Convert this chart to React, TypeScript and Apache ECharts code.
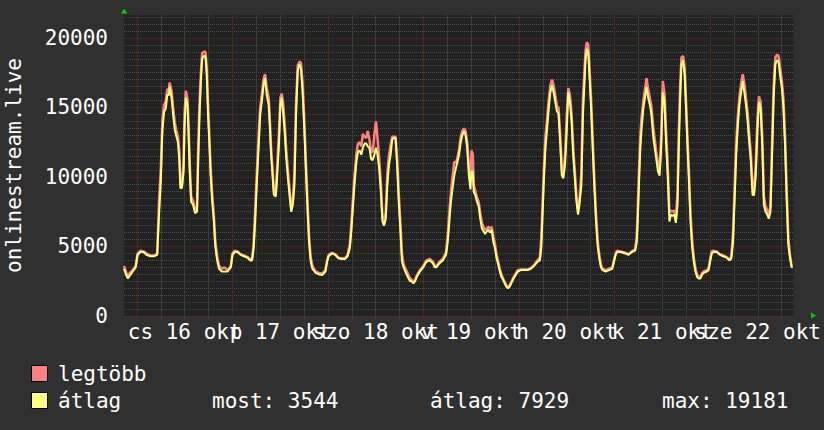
import React, { useEffect, useRef } from "react";
import * as echarts from "echarts";

// time in hours from midnight, 16 okt
const hours = [
  -3.25, -2.78, -2.29, -1.79, -1.06, -0.32, 0.17, 0.91, 1.65, 2.38, 3.37, 4.35, 5.09, 5.58, 6.0, 6.39, 6.81, 7.23, 7.62, 8.04,
  8.21, 8.7, 9.09, 9.51, 9.93, 10.32, 10.67, 10.91, 11.3, 11.72, 11.97, 12.29, 12.71, 12.95, 13.27, 13.62, 14.11, 14.6, 15.09, 15.41,
  15.73, 16.07, 16.39, 16.81, 17.2, 17.55, 17.87, 18.19, 18.53, 18.92, 19.34, 19.66, 20.15, 20.64, 21.31, 21.97, 22.78, 23.59, 24.01, 24.58,
  25.24, 26.05, 26.89, 27.7, 28.51, 28.93, 29.34, 29.74, 30.15, 30.57, 30.97, 31.38, 31.8, 32.19, 32.61, 33.1, 33.42, 33.67, 34.01, 34.41,
  34.9, 35.24, 35.64, 36.05, 36.37, 36.72, 37.11, 37.53, 37.95, 38.34, 38.76, 39.17, 39.57, 39.98, 40.4, 40.8, 41.21, 41.63, 42.02, 42.44,
  42.86, 43.25, 43.67, 44.09, 44.9, 45.71, 46.55, 47.36, 47.78, 48.17, 49.0, 49.82, 50.63, 51.46, 52.27, 52.94, 53.5, 53.92, 54.31, 54.73,
  55.15, 55.54, 55.96, 56.38, 56.77, 57.19, 57.61, 58.0, 58.42, 58.84, 59.23, 59.65, 60.06, 60.46, 60.87, 61.29, 61.69, 62.1, 62.52, 62.91,
  63.33, 63.75, 64.14, 64.56, 64.98, 65.37, 65.79, 66.21, 66.6, 67.02, 67.44, 67.83, 68.25, 68.66, 69.06, 69.47, 69.89, 70.29, 71.12, 71.93,
  72.74, 73.58, 74.39, 74.81, 75.2, 76.04, 76.85, 77.66, 78.08, 78.5, 78.89, 79.31, 79.73, 80.12, 80.54, 80.95, 81.35, 81.76, 82.18, 82.58,
  82.99, 83.41, 83.8, 84.05, 84.39, 84.64, 85.03, 85.45, 85.87, 86.26, 86.68, 87.1, 87.49, 87.91, 88.33, 88.72, 89.14, 89.56, 89.95, 90.37,
  90.78, 91.18, 91.59, 92.01, 92.41, 92.82, 93.24, 93.63, 94.05, 94.47, 94.86, 95.28, 95.7, 96.51, 97.32, 98.16, 98.97, 99.78, 100.61, 101.25,
  101.6, 101.92, 102.24, 102.65, 103.07, 103.46, 103.88, 104.3, 104.69, 105.11, 105.53, 105.92, 106.34, 106.76, 107.15, 107.57, 107.99, 108.38, 108.8, 109.22,
  109.61, 110.03, 110.45, 110.84, 111.26, 111.67, 112.07, 112.48, 112.73, 113.05, 113.39, 113.71, 114.13, 114.52, 114.94, 115.36, 115.75, 116.17, 116.59, 116.98,
  117.82, 118.63, 119.44, 119.86, 120.28, 120.67, 121.5, 122.73, 123.54, 124.35, 125.19, 125.58, 125.83, 126.17, 126.49, 126.81, 127.23, 127.65, 128.04, 128.46,
  128.88, 129.27, 129.69, 130.11, 130.5, 130.92, 131.33, 131.73, 132.14, 132.56, 132.95, 133.37, 133.79, 134.18, 134.6, 135.02, 135.41, 135.83, 136.15, 136.5,
  136.81, 137.23, 137.63, 137.97, 138.29, 138.71, 139.1, 139.52, 139.93, 140.33, 140.75, 141.16, 141.56, 141.97, 142.39, 143.21, 143.62, 144.02, 144.43, 144.85,
  145.66, 146.47, 147.31, 148.12, 148.93, 149.35, 149.77, 150.16, 150.58, 150.99, 151.39, 151.81, 152.22, 152.62, 153.03, 153.45, 153.84, 154.26, 154.68, 155.07,
  155.49, 155.91, 156.3, 156.72, 157.14, 157.53, 157.95, 158.37, 158.76, 159.18, 159.6, 159.99, 160.41, 160.83, 161.22, 161.64, 162.06, 162.45, 162.87, 163.28,
  163.68, 164.1, 164.51, 164.76,
];

// "átlag" (average)
const avgVals = [
  3400, 3000, 2700, 2900, 3200, 3500, 4400, 4600, 4600, 4400, 4300, 4300, 4400, 7500, 9700, 13300, 14700, 14900, 15900, 15900,
  16500, 15700, 14500, 13400, 12900, 12500, 11100, 9200, 9200, 10400, 13700, 15700, 15200, 13300, 10400, 8200, 8000, 7400, 7500, 11300,
  14500, 16900, 18500, 18700, 18700, 17300, 14500, 12500, 10100, 8200, 6800, 5100, 4000, 3400, 3200, 3200, 3200, 3500, 4400, 4600,
  4600, 4400, 4300, 4200, 4000, 4000, 4900, 7000, 9700, 12100, 14500, 15400, 16600, 17100, 15900, 15200, 13500, 11800, 10400, 8700,
  8600, 10100, 12100, 15200, 15700, 14700, 13300, 11300, 9900, 8700, 7500, 8000, 9400, 14500, 17600, 18100, 17800, 16100, 13700, 10600,
  7700, 5300, 3900, 3400, 3100, 3000, 2950, 3200, 3900, 4300, 4500, 4400, 4150, 4100, 4100, 4300, 4900, 6300, 8000, 9700,
  11100, 11800, 11900, 11600, 12100, 12400, 12400, 12200, 12100, 11300, 11200, 11600, 12100, 11600, 10600, 8900, 6800, 6500, 7000, 9400,
  10900, 11600, 12700, 12800, 12800, 10900, 8200, 6100, 3900, 3500, 3200, 2950, 2700, 2500, 2500, 2350, 2500, 2800, 3200, 3500,
  3900, 4000, 3800, 3500, 3500, 3800, 4000, 4400, 5300, 6800, 8200, 9200, 10100, 10600, 11100, 11600, 12500, 13000, 13300, 13000,
  12100, 10100, 9100, 10400, 10400, 8900, 8700, 8200, 7900, 7000, 6300, 6100, 5900, 6100, 6200, 6000, 6200, 5300, 4900, 4150,
  3700, 3200, 2800, 2600, 2350, 2100, 2000, 2100, 2350, 2600, 2800, 3000, 3200, 3300, 3300, 3300, 3400, 3600, 3900, 4000,
  4900, 7300, 9700, 12100, 13500, 14900, 16100, 16600, 16100, 15400, 14700, 14600, 12500, 10100, 9900, 10900, 13300, 16100, 15400, 14000,
  11600, 9900, 8200, 7300, 8200, 9400, 14500, 16900, 18500, 19200, 19000, 17300, 14900, 12100, 9200, 6800, 5100, 4150, 3500, 3300,
  3200, 3300, 3400, 3900, 4400, 4600, 4600, 4500, 4400, 4600, 4700, 5300, 6800, 9700, 12100, 13500, 14900, 15700, 16500, 15700,
  15200, 14500, 13000, 12100, 11300, 10400, 10100, 12100, 16100, 15400, 12500, 10100, 6800, 7300, 7200, 7300, 6700, 8000, 12100, 15700,
  18100, 18400, 17300, 14900, 12500, 9700, 6800, 4900, 3900, 3200, 2800, 2700, 2700, 2950, 3100, 3200, 3300, 3900, 4500, 4600,
  4600, 4400, 4300, 4200, 4000, 4150, 5300, 8200, 11600, 13700, 15200, 16100, 16900, 16100, 15200, 14000, 12500, 11100, 8700, 8700,
  10100, 13300, 15400, 14900, 12100, 8000, 7500, 7300, 7000, 7500, 11600, 15700, 18100, 18400, 18300, 17200, 16400, 14900, 12100, 8200,
  5100, 4150, 3500, 3544,
];

// "legtöbb" (maximum)
const maxVals = [
  3600, 3200, 2900, 3100, 3300, 3600, 4500, 4700, 4650, 4500, 4350, 4350, 4500, 8400, 10600, 14000, 15200, 15400, 16300, 16300,
  16800, 16200, 15000, 13900, 13300, 12900, 11700, 9600, 9400, 11000, 14600, 16200, 15600, 13900, 11000, 8600, 8300, 7600, 7800, 12300,
  15300, 17500, 18900, 19000, 19000, 17900, 15200, 13000, 10600, 8700, 7200, 5500, 4300, 3600, 3400, 3500, 3300, 3600, 4500, 4700,
  4650, 4450, 4350, 4250, 4100, 4100, 5300, 7800, 10500, 12900, 15000, 15900, 17000, 17400, 16400, 15700, 14000, 12300, 10800, 9000,
  8900, 10800, 12900, 15700, 16000, 15300, 13900, 11900, 10400, 9100, 7800, 8300, 10200, 15300, 18000, 18300, 18200, 16700, 14300, 11200,
  8200, 5700, 4200, 3600, 3200, 3100, 3050, 3300, 4000, 4400, 4550, 4450, 4200, 4150, 4150, 4400, 5200, 6800, 8600, 10300,
  11700, 12400, 12500, 12200, 13100, 12900, 12800, 13300, 12700, 11800, 11800, 13000, 14000, 12800, 11300, 9500, 7200, 6800, 7400, 10200,
  11600, 12300, 12900, 12900, 12900, 11400, 8800, 6600, 4400, 3700, 3400, 3200, 2900, 2700, 2600, 2450, 2600, 2900, 3300, 3600,
  4000, 4100, 3900, 3600, 3600, 3900, 4100, 4600, 5800, 7500, 8900, 10000, 11100, 11000, 11400, 12000, 12900, 13300, 13500, 13300,
  12500, 10700, 9700, 11900, 11600, 9400, 9000, 8500, 8200, 7400, 6700, 6400, 6200, 6300, 6400, 6300, 6400, 5700, 5200, 4400,
  3900, 3400, 3000, 2700, 2450, 2200, 2100, 2200, 2450, 2700, 2900, 3100, 3300, 3350, 3350, 3350, 3450, 3650, 4000, 4200,
  5600, 8000, 10500, 12900, 14200, 15500, 16600, 17000, 16600, 15900, 15100, 15000, 13100, 10600, 10200, 11600, 14300, 16400, 15900, 14500,
  12200, 10400, 8600, 7600, 8600, 10300, 15600, 17800, 19100, 19700, 19500, 17900, 15500, 12700, 9800, 7300, 5500, 4400, 3700, 3400,
  3300, 3400, 3500, 4000, 4500, 4700, 4650, 4550, 4450, 4650, 4800, 5700, 7600, 10600, 13000, 14300, 15500, 16300, 17100, 16300,
  15700, 15100, 13700, 12700, 11800, 10900, 10500, 13000, 16900, 16000, 13300, 10800, 7400, 7600, 7500, 7600, 7000, 8800, 13200, 16600,
  18600, 18700, 17800, 15500, 13100, 10300, 7300, 5400, 4200, 3400, 3000, 2800, 2800, 3050, 3200, 3300, 3400, 4100, 4650, 4700,
  4650, 4450, 4350, 4250, 4050, 4300, 5900, 9100, 12500, 14400, 15800, 16700, 17400, 16700, 15700, 14600, 13100, 11700, 9200, 9000,
  10900, 14200, 15800, 15400, 12800, 8600, 7900, 7600, 7300, 7900, 12600, 16600, 18600, 18800, 18700, 17800, 16900, 15600, 12800, 8900,
  5600, 4400, 3600, 3600,
];

const dayLabels = ["cs 16 okt", "p 17 okt", "szo 18 okt", "v 19 okt", "h 20 okt", "k 21 okt", "sze 22 okt"];
const labelHours = [12, 36, 60, 84, 108, 132, 156];

const yAxisTitle = "onlinestream.live";
const seriesNames = ["legtöbb", "átlag"];
const statNow = 3544;
const statAvg = 7929;
const statMax = 19181;

const X_MIN = -3.25;
const X_MAX = 165.0;
const SLOT = 0.25; // hours per slot of the hidden grid (category) axes
const Y_MAX = 21650;

const FONT = "'DejaVu Sans Mono', monospace";
const PINK = "#ff8080";
const YELLOW = "#ffff80";
const GRID_MINOR = "#4e4e4e";
const GRID_MAJOR = "#6e2c2c";
const VGRID_MINOR = "#3b3b3b";
const VGRID_MAJOR = "#4c2727";
const TEXT = "#ffffff";

const slots: string[] = [];
for (let k = 0; X_MIN + k * SLOT <= X_MAX + 1e-9; k++) slots.push(String(X_MIN + k * SLOT));

const slotHour = (i: number) => X_MIN + i * SLOT;
const isDayMark = (i: number) => {
  const h = slotHour(i);
  return Math.abs(h - Math.round(h / 24) * 24) < 1e-6;
};
const isQuarterMark = (i: number) => {
  const h = slotHour(i);
  return Math.abs(h - Math.round(h / 6) * 6) < 1e-6 && !isDayMark(i);
};

function dayLabel(v: number) {
  const i = labelHours.indexOf(Math.round(v));
  return i >= 0 ? dayLabels[i] : "";
}

function labelAxis(values: number[]) {
  return {
    type: "value",
    min: X_MIN,
    max: X_MAX,
    position: "bottom",
    offset: 0,
    axisLine: { show: false },
    axisTick: { show: false },
    axisLabel: {
      show: true,
      customValues: values,
      formatter: dayLabel,
      color: TEXT,
      fontSize: 21,
      fontFamily: FONT,
      margin: 5,
      hideOverlap: false,
      showMinLabel: true,
      showMaxLabel: true,
    },
    splitLine: { show: false },
  };
}

function gridAxis(test: (i: number) => boolean, color: string) {
  return {
    type: "category",
    data: slots,
    boundaryGap: false,
    position: "bottom",
    offset: 0,
    axisLine: { show: false },
    axisLabel: { show: false },
    axisTick: { show: true, interval: (i: number) => test(i), length: 3, lineStyle: { color } },
    splitLine: { show: true, interval: (i: number) => test(i), lineStyle: { color, width: 1, type: "solid" } },
  };
}

export default function App() {
  const ref = useRef<HTMLDivElement>(null);

  useEffect(() => {
    document.body.style.margin = "0";
    const chart = echarts.init(ref.current!, null, { renderer: "svg" });
    const maxData = hours.map((h, i) => [h, maxVals[i]]);
    const avgData = hours.map((h, i) => [h, avgVals[i]]);

    const option: any = {
      animation: false,
      backgroundColor: "#303030",
      textStyle: { fontFamily: FONT },
      grid: {
        left: 124,
        top: 15,
        width: 685,
        height: 301,
        show: true,
        backgroundColor: "#212121",
        borderWidth: 0,
        containLabel: false,
      },
      xAxis: [
        labelAxis(labelHours.filter((_, i) => i % 2 === 0)),
        labelAxis(labelHours.filter((_, i) => i % 2 === 1)),
        gridAxis(isQuarterMark, VGRID_MINOR),
        gridAxis(isDayMark, VGRID_MAJOR),
      ],
      yAxis: [
        {
          type: "value",
          min: 0,
          max: Y_MAX,
          interval: 500,
          position: "left",
          axisLine: { show: false },
          axisTick: { show: false },
          axisLabel: { show: false },
          splitLine: { show: true, showMaxLine: false, lineStyle: { color: GRID_MINOR, width: 1, type: [1, 1] } },
        },
        {
          type: "value",
          min: 0,
          max: Y_MAX,
          interval: 5000,
          position: "left",
          axisLine: { show: false },
          axisTick: { show: false },
          axisLabel: {
            color: TEXT,
            fontSize: 21,
            fontFamily: FONT,
            margin: 16,
            showMaxLabel: false,
            formatter: (v: number) => String(v),
          },
          splitLine: { show: true, showMaxLine: false, lineStyle: { color: GRID_MAJOR, width: 1, type: [1, 1] } },
        },
      ],
      series: [
        {
          type: "line",
          name: seriesNames[0],
          xAxisIndex: 0,
          yAxisIndex: 0,
          data: maxData,
          showSymbol: false,
          symbol: "none",
          lineStyle: { color: PINK, width: 2.5 },
          itemStyle: { color: PINK },
          z: 3,
        },
        {
          type: "line",
          name: seriesNames[1],
          xAxisIndex: 0,
          yAxisIndex: 0,
          data: avgData,
          showSymbol: false,
          symbol: "none",
          lineStyle: { color: YELLOW, width: 2 },
          itemStyle: { color: YELLOW },
          z: 4,
        },
      ],
      graphic: [
        {
          type: "text",
          x: 14,
          y: 165.5,
          rotation: Math.PI / 2,
          style: { text: yAxisTitle, fill: TEXT, font: `21px ${FONT}`, align: "center", verticalAlign: "middle" },
        },
        {
          type: "polygon",
          shape: { points: [[121, 13.5], [127.5, 13.5], [124.25, 8.5]] },
          style: { fill: "#00d000" },
        },
        {
          type: "polygon",
          shape: { points: [[811, 312.5], [811, 318.5], [816, 315.5]] },
          style: { fill: "#00d000" },
        },
        {
          type: "rect",
          shape: { x: 31.5, y: 365.5, width: 16, height: 16 },
          style: { fill: PINK, stroke: "#000", lineWidth: 1 },
        },
        {
          type: "rect",
          shape: { x: 31.5, y: 392.5, width: 16, height: 16 },
          style: { fill: YELLOW, stroke: "#000", lineWidth: 1 },
        },
        {
          type: "text",
          x: 58,
          y: 373.5,
          style: { text: seriesNames[0], fill: TEXT, font: `21px ${FONT}`, verticalAlign: "middle" },
        },
        {
          type: "text",
          x: 58,
          y: 400.5,
          style: { text: seriesNames[1], fill: TEXT, font: `21px ${FONT}`, verticalAlign: "middle" },
        },
        {
          type: "text",
          x: 212,
          y: 400.5,
          style: { text: `most: ${statNow}`, fill: TEXT, font: `21px ${FONT}`, verticalAlign: "middle" },
        },
        {
          type: "text",
          x: 430,
          y: 400.5,
          style: { text: `átlag: ${statAvg}`, fill: TEXT, font: `21px ${FONT}`, verticalAlign: "middle" },
        },
        {
          type: "text",
          x: 662,
          y: 400.5,
          style: { text: `max: ${statMax}`, fill: TEXT, font: `21px ${FONT}`, verticalAlign: "middle" },
        },
      ],
    };

    chart.setOption(option);
    return () => chart.dispose();
  }, []);

  return <div ref={ref} style={{ position: "fixed", left: 0, top: 0, width: 824, height: 430 }} />;
}
